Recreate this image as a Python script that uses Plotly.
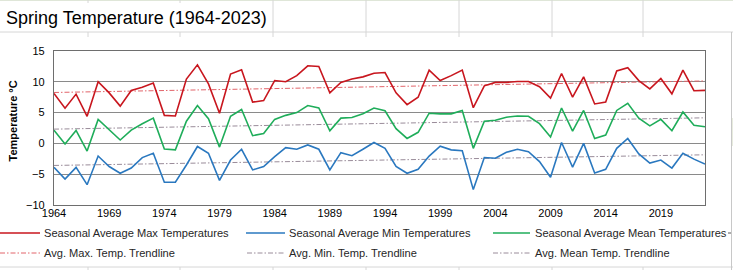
import numpy as np
import plotly.graph_objects as go

years = list(range(1964, 2024))

max_temps = [8.1, 5.7, 8.0, 4.4, 10.0, 8.2, 6.05, 8.6, 9.1, 9.8, 4.55, 4.45, 10.45, 12.75, 9.65, 4.9,
             11.25, 11.95, 6.7, 6.95, 10.2, 10.0, 11.0, 12.6, 12.5, 8.2, 9.9, 10.45, 10.8, 11.4, 11.5,
             8.2, 6.3, 7.5, 11.9, 10.2, 11.0, 11.9, 5.8, 9.35, 9.9, 9.9, 10.05, 10.05, 9.2, 7.35,
             11.35, 7.5, 10.8, 6.4, 6.7, 11.75, 12.3, 10.2, 8.85, 10.55, 8.05, 11.9, 8.55, 8.6]

mean_temps = [2.15, -0.1, 2.1, -1.25, 3.9, 2.3, 0.55, 2.15, 3.2, 4.1, -0.9, -1.05, 3.6, 6.15, 4.0, -0.6,
              4.4, 5.5, 1.25, 1.6, 3.9, 4.55, 5.0, 6.15, 5.75, 2.05, 4.1, 4.2, 4.8, 5.75, 5.3,
              2.4, 0.8, 1.8, 4.9, 4.8, 4.8, 5.35, -0.8, 3.6, 3.75, 4.25, 4.45, 4.4, 3.2, 1.05,
              5.75, 2.0, 5.35, 0.8, 1.35, 5.35, 6.5, 4.1, 2.85, 3.9, 2.05, 5.1, 2.95, 2.7]

min_temps = [-3.9, -5.8, -3.9, -6.7, -2.05, -3.75, -4.85, -4.0, -2.3, -1.6, -6.3, -6.3, -3.5, -0.5, -1.6, -6.0,
             -2.7, -0.95, -4.3, -3.75, -2.15, -0.7, -0.95, -0.25, -0.95, -4.3, -1.5, -2.0, -0.95, 0.15, -0.8,
             -3.75, -4.85, -4.2, -2.05, -0.45, -1.05, -1.2, -7.5, -2.3, -2.4, -1.45, -0.95, -1.35, -2.95, -5.5,
             0.15, -3.85, 0.0, -4.8, -4.2, -0.8, 0.8, -1.7, -3.2, -2.7, -4.0, -1.6, -2.55, -3.35]

x_tick_years = [1964, 1969, 1974, 1979, 1984, 1989, 1994, 1999, 2004, 2009, 2014, 2019]
y_ticks = [-10, -5, 0, 5, 10, 15]

title_text = "Spring Temperature (1964-2023)"
y_title = "Temperature °C"
legend_names = ["Seasonal Average Max Temperatures", "Seasonal Average Min Temperatures",
                "Seasonal Average Mean Temperatures", "Avg. Max. Temp. Trendline",
                "Avg. Min. Temp. Trendline", "Avg. Mean Temp. Trendline"]

RED = "#c8161e"
BLUE = "#2a78bf"
GREEN = "#1fad5a"
RED_T = "#e2646a"
GRAY_T = "#9a8c9a"
FONT = "Liberation Sans, Arial, sans-serif"

W, H = 733, 270
PL, PR, PT, PB = 54, 705, 51, 205


def px(xp):
    return (xp - PL) / (PR - PL)


def py(yp):
    return (PB - yp) / (PB - PT)


fig = go.Figure()

series = [(max_temps, RED, RED_T), (min_temps, BLUE, GRAY_T), (mean_temps, GREEN, GRAY_T)]
for vals, col, tcol in series:
    slope, icpt = np.polyfit(years, vals, 1)
    ends = [years[0], years[-1]]
    fig.add_trace(go.Scatter(x=ends, y=[slope * e + icpt for e in ends], mode="lines",
                             line=dict(color=tcol, width=1, dash="5px,2px,1.5px,2px"),
                             showlegend=False, hoverinfo="skip"))
for vals, col, tcol in series:
    fig.add_trace(go.Scatter(x=years, y=vals, mode="lines", line=dict(color=col, width=1.6),
                             showlegend=False))

shapes = []
annotations = []
GRID = "#d6d6d6"
# spreadsheet cell lines around chart object
shapes.append(dict(type="line", xref="paper", yref="paper", x0=px(0), x1=px(W), y0=py(32), y1=py(32),
                   line=dict(color=GRID, width=1)))
shapes.append(dict(type="line", xref="paper", yref="paper", x0=px(0), x1=px(W), y0=py(0.5), y1=py(0.5),
                   line=dict(color="#dfe6d8", width=1)))
for cx in [273, 366, 459, 552, 643]:
    shapes.append(dict(type="line", xref="paper", yref="paper", x0=px(cx), x1=px(cx), y0=py(0), y1=py(37),
                       line=dict(color=GRID, width=1)))
for cx in [88, 180]:
    shapes.append(dict(type="line", xref="paper", yref="paper", x0=px(cx), x1=px(cx), y0=py(0), y1=py(3),
                       line=dict(color=GRID, width=1)))
    shapes.append(dict(type="line", xref="paper", yref="paper", x0=px(cx), x1=px(cx), y0=py(32), y1=py(37),
                       line=dict(color=GRID, width=1)))
shapes.append(dict(type="line", xref="paper", yref="paper", x0=px(0), x1=px(W), y0=py(267), y1=py(267),
                   line=dict(color=GRID, width=1)))
for cx in [88, 180, 273, 366, 459, 552, 643]:
    shapes.append(dict(type="line", xref="paper", yref="paper", x0=px(cx), x1=px(cx), y0=py(267), y1=py(270),
                       line=dict(color=GRID, width=1)))
shapes.append(dict(type="line", xref="paper", yref="paper", x0=px(731.5), x1=px(731.5), y0=py(32), y1=py(270),
                   line=dict(color="#c8c8c8", width=1)))
shapes.append(dict(type="rect", xref="paper", yref="paper", x0=px(732), x1=px(733), y0=py(146), y1=py(118),
                   line=dict(width=0), fillcolor="#e8ecdf"))

# legend
leg = [(0, 40, 42, 233, RED, "solid", 1.6), (246, 285, 287, 233, BLUE, "solid", 1.6),
       (493, 530, 533, 233, GREEN, "solid", 1.6), (0, 40, 42, 253, RED_T, "5px,2px,1.5px,2px", 1),
       (247, 285, 287, 253, GRAY_T, "5px,2px,1.5px,2px", 1), (493, 530, 533, 253, GRAY_T, "5px,2px,1.5px,2px", 1)]
for (x0, x1, tx, ty, col, dash, w), name in zip(leg, legend_names):
    shapes.append(dict(type="line", xref="paper", yref="paper", x0=px(x0), x1=px(x1), y0=py(ty), y1=py(ty),
                       line=dict(color=col, width=w, dash=dash)))
    annotations.append(dict(xref="paper", yref="paper", x=px(tx), y=py(ty), text=name, showarrow=False,
                            xanchor="left", yanchor="middle", font=dict(family=FONT, size=11.1, color="#262626")))
shapes.append(dict(type="line", xref="paper", yref="paper", x0=px(728), x1=px(731), y0=py(233), y1=py(233),
                   line=dict(color="#595959", width=1)))

annotations.append(dict(xref="paper", yref="paper", x=px(4), y=py(18), text=title_text, showarrow=False,
                        xanchor="left", yanchor="middle", font=dict(family=FONT, size=18, color="#000000")))
annotations.append(dict(xref="paper", yref="paper", x=px(12), y=py(121.5), text="<b>" + y_title + "</b>",
                        showarrow=False, textangle=-90, xanchor="center", yanchor="middle",
                        font=dict(family=FONT, size=11, color="#000000")))

fig.update_layout(
    width=W, height=H,
    margin=dict(l=PL, r=W - PR, t=PT, b=H - PB, autoexpand=False),
    paper_bgcolor="white", plot_bgcolor="white",
    shapes=shapes, annotations=annotations, showlegend=False,
    font=dict(family=FONT, size=11, color="#000000"),
)
fig.update_xaxes(range=[years[0], years[-1]], tickmode="array", tickvals=x_tick_years,
                 ticktext=[str(v) for v in x_tick_years], showgrid=False, zeroline=False,
                 showline=True, linecolor="#6e6e6e", linewidth=1.3, mirror=True,
                 ticks="", ticklabelstandoff=-2, tickfont=dict(family=FONT, size=11, color="#000000"))
fig.update_yaxes(range=[-10, 15], tickmode="array", tickvals=y_ticks, showgrid=True,
                 gridcolor="#8a8a8a", gridwidth=1.4, zeroline=False,
                 showline=True, linecolor="#6e6e6e", linewidth=1.3, mirror=True,
                 ticks="", ticklabelstandoff=6, tickfont=dict(family=FONT, size=11, color="#000000"))

fig.write_html("out.html", config={"displayModeBar": False},
               post_script="document.body.style.margin='0';document.body.style.overflow='hidden';")
